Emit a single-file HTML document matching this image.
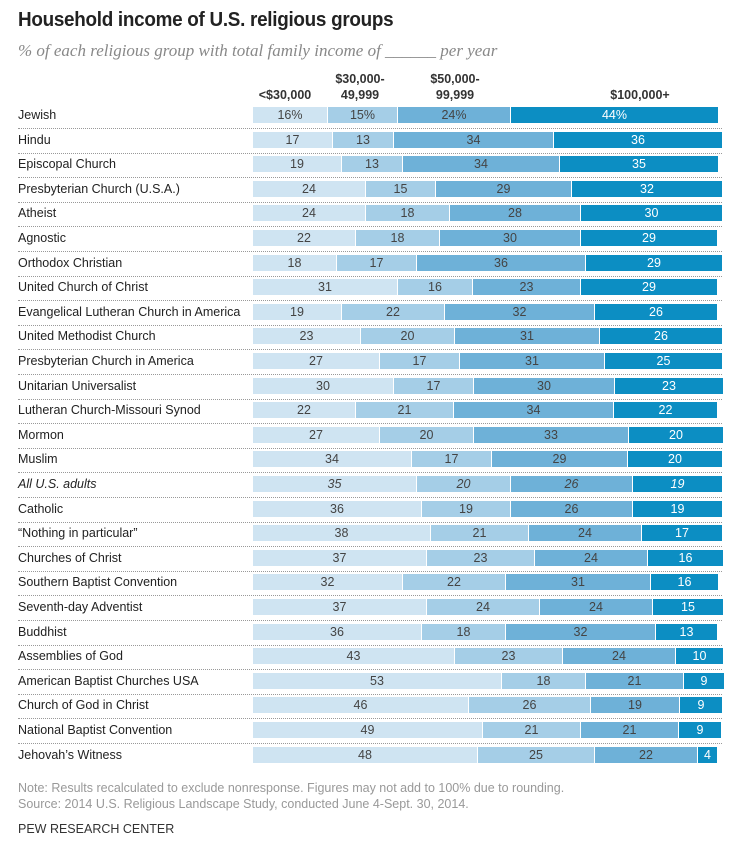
<!DOCTYPE html>
<html><head><meta charset="utf-8"><style>
body{margin:0;background:#fff;width:743px;height:843px;position:relative;overflow:hidden;font-family:"Liberation Sans",sans-serif;color:#222}
.t{position:absolute;left:18px;top:8px;font-size:20.5px;font-weight:bold;letter-spacing:-0.3px;transform:scaleX(0.92);transform-origin:0 0;white-space:nowrap}
.s{position:absolute;left:18px;top:41px;font-family:"Liberation Serif",serif;font-style:italic;font-size:17px;color:#888;white-space:nowrap}
.h{position:absolute;font-size:12.5px;font-weight:bold;text-align:center;line-height:16px;color:#333}
.r{position:absolute;left:18px;width:704px;height:21px;border-bottom:1px dotted #999}
.l{position:absolute;left:0;top:0;line-height:16px;font-size:12.5px;color:#222;white-space:nowrap}
.b{position:absolute;left:235px;top:0;height:16px;display:flex}
.b span{display:block;height:16px;line-height:16px;text-align:center;font-size:12.5px;box-sizing:border-box;border-right:1px solid #fff;color:#444}
.b span:nth-child(1){background:#cfe4f2}
.b span:nth-child(2){background:#a5cee7}
.b span:nth-child(3){background:#6eb1d8}
.b span:nth-child(4){background:#0c8ec3;color:#fff;border-right:none}
.i .l,.i span{font-style:italic}
.n{position:absolute;left:18px;font-size:12.5px;color:#999}
</style></head><body>
<div class="t">Household income of U.S. religious groups</div>
<div class="s">% of each religious group with total family income of ______ per year</div>
<div class="h" style="left:250px;top:87px;width:70px">&lt;$30,000</div>
<div class="h" style="left:325px;top:71px;width:70px">$30,000-<br>49,999</div>
<div class="h" style="left:420px;top:71px;width:70px">$50,000-<br>99,999</div>
<div class="h" style="left:600px;top:87px;width:80px">$100,000+</div>

<div class="r" style="top:107px"><div class="l">Jewish</div><div class="b"><span style="width:75px">16%</span><span style="width:70px">15%</span><span style="width:113px">24%</span><span style="width:207px">44%</span></div></div>
<div class="r" style="top:131.6px"><div class="l">Hindu</div><div class="b"><span style="width:80px">17</span><span style="width:61px">13</span><span style="width:160px">34</span><span style="width:168px">36</span></div></div>
<div class="r" style="top:156.2px"><div class="l">Episcopal Church</div><div class="b"><span style="width:89px">19</span><span style="width:61px">13</span><span style="width:157px">34</span><span style="width:158px">35</span></div></div>
<div class="r" style="top:180.8px"><div class="l">Presbyterian Church (U.S.A.)</div><div class="b"><span style="width:113px">24</span><span style="width:70px">15</span><span style="width:136px">29</span><span style="width:150px">32</span></div></div>
<div class="r" style="top:205.4px"><div class="l">Atheist</div><div class="b"><span style="width:113px">24</span><span style="width:84px">18</span><span style="width:131px">28</span><span style="width:141px">30</span></div></div>
<div class="r" style="top:230px"><div class="l">Agnostic</div><div class="b"><span style="width:103px">22</span><span style="width:84px">18</span><span style="width:141px">30</span><span style="width:136px">29</span></div></div>
<div class="r" style="top:254.6px"><div class="l">Orthodox Christian</div><div class="b"><span style="width:84px">18</span><span style="width:80px">17</span><span style="width:169px">36</span><span style="width:136px">29</span></div></div>
<div class="r" style="top:279.2px"><div class="l">United Church of Christ</div><div class="b"><span style="width:145px">31</span><span style="width:75px">16</span><span style="width:108px">23</span><span style="width:136px">29</span></div></div>
<div class="r" style="top:303.8px"><div class="l">Evangelical Lutheran Church in America</div><div class="b"><span style="width:89px">19</span><span style="width:103px">22</span><span style="width:150px">32</span><span style="width:122px">26</span></div></div>
<div class="r" style="top:328.4px"><div class="l">United Methodist Church</div><div class="b"><span style="width:108px">23</span><span style="width:94px">20</span><span style="width:145px">31</span><span style="width:122px">26</span></div></div>
<div class="r" style="top:353px"><div class="l">Presbyterian Church in America</div><div class="b"><span style="width:127px">27</span><span style="width:80px">17</span><span style="width:145px">31</span><span style="width:117px">25</span></div></div>
<div class="r" style="top:377.6px"><div class="l">Unitarian Universalist</div><div class="b"><span style="width:141px">30</span><span style="width:80px">17</span><span style="width:141px">30</span><span style="width:108px">23</span></div></div>
<div class="r" style="top:402.2px"><div class="l">Lutheran Church-Missouri Synod</div><div class="b"><span style="width:103px">22</span><span style="width:98px">21</span><span style="width:160px">34</span><span style="width:103px">22</span></div></div>
<div class="r" style="top:426.8px"><div class="l">Mormon</div><div class="b"><span style="width:127px">27</span><span style="width:94px">20</span><span style="width:155px">33</span><span style="width:94px">20</span></div></div>
<div class="r" style="top:451.4px"><div class="l">Muslim</div><div class="b"><span style="width:159px">34</span><span style="width:80px">17</span><span style="width:136px">29</span><span style="width:94px">20</span></div></div>
<div class="r i" style="top:476px"><div class="l">All U.S. adults</div><div class="b"><span style="width:164px">35</span><span style="width:94px">20</span><span style="width:122px">26</span><span style="width:89px">19</span></div></div>
<div class="r" style="top:500.6px"><div class="l">Catholic</div><div class="b"><span style="width:169px">36</span><span style="width:89px">19</span><span style="width:122px">26</span><span style="width:89px">19</span></div></div>
<div class="r" style="top:525.2px"><div class="l">“Nothing in particular”</div><div class="b"><span style="width:178px">38</span><span style="width:98px">21</span><span style="width:113px">24</span><span style="width:80px">17</span></div></div>
<div class="r" style="top:549.8px"><div class="l">Churches of Christ</div><div class="b"><span style="width:174px">37</span><span style="width:108px">23</span><span style="width:113px">24</span><span style="width:75px">16</span></div></div>
<div class="r" style="top:574.4px"><div class="l">Southern Baptist Convention</div><div class="b"><span style="width:150px">32</span><span style="width:103px">22</span><span style="width:145px">31</span><span style="width:67px">16</span></div></div>
<div class="r" style="top:599px"><div class="l">Seventh-day Adventist</div><div class="b"><span style="width:174px">37</span><span style="width:113px">24</span><span style="width:113px">24</span><span style="width:70px">15</span></div></div>
<div class="r" style="top:623.6px"><div class="l">Buddhist</div><div class="b"><span style="width:169px">36</span><span style="width:84px">18</span><span style="width:150px">32</span><span style="width:61px">13</span></div></div>
<div class="r" style="top:648.2px"><div class="l">Assemblies of God</div><div class="b"><span style="width:202px">43</span><span style="width:108px">23</span><span style="width:113px">24</span><span style="width:47px">10</span></div></div>
<div class="r" style="top:672.8px"><div class="l">American Baptist Churches USA</div><div class="b"><span style="width:249px">53</span><span style="width:84px">18</span><span style="width:98px">21</span><span style="width:40px">9</span></div></div>
<div class="r" style="top:697.4px"><div class="l">Church of God in Christ</div><div class="b"><span style="width:216px">46</span><span style="width:122px">26</span><span style="width:89px">19</span><span style="width:42px">9</span></div></div>
<div class="r" style="top:722px"><div class="l">National Baptist Convention</div><div class="b"><span style="width:230px">49</span><span style="width:98px">21</span><span style="width:98px">21</span><span style="width:42px">9</span></div></div>
<div class="r" style="top:746.6px;border-bottom:none"><div class="l">Jehovah’s Witness</div><div class="b"><span style="width:225px">48</span><span style="width:117px">25</span><span style="width:103px">22</span><span style="width:19px">4</span></div></div>

<div class="n" style="top:781px">Note: Results recalculated to exclude nonresponse. Figures may not add to 100% due to rounding.</div>
<div class="n" style="top:797px">Source: 2014 U.S. Religious Landscape Study, conducted June 4-Sept. 30, 2014.</div>
<div class="n" style="top:822px;color:#333">PEW RESEARCH CENTER</div>
</body></html>
